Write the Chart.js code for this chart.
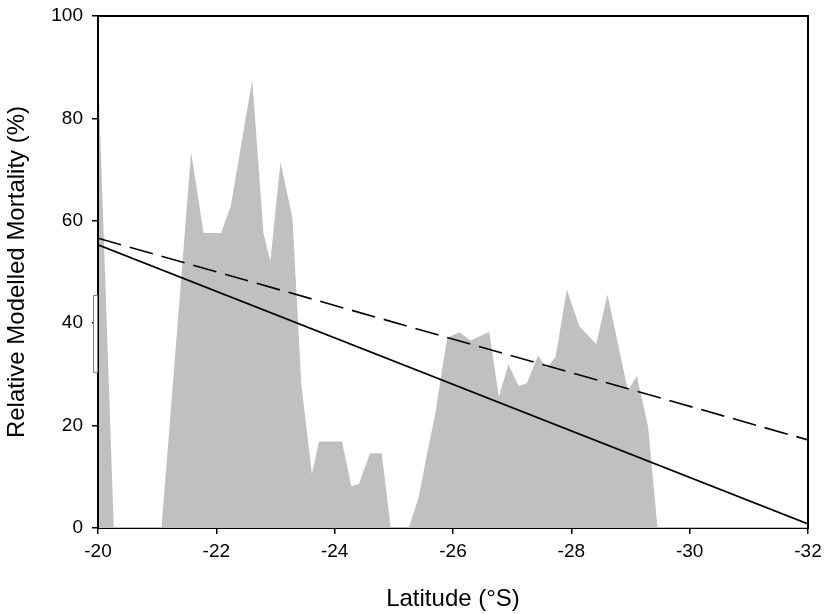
<!DOCTYPE html>
<html>
<head>
<meta charset="utf-8">
<script src="https://cdn.jsdelivr.net/npm/chart.js@4.4.1/dist/chart.umd.min.js"></script>
<style>
html,body{margin:0;padding:0;background:#fff;}
#wrap{width:824px;height:614px;position:relative;}
</style>
</head>
<body>
<div id="wrap"><canvas id="c" width="824" height="614"></canvas></div>
<script>
// Latitude (°S) of the modelled mortality profile vertices
const areaLat = [-20, -20.25, -21.09, -21.58, -21.77, -22.09, -22.26, -22.60, -22.78, -22.92, -23.09, -23.27, -23.42, -23.61, -23.75, -24.11, -24.27, -24.42, -24.61, -24.78, -24.93, -25.27, -25.44, -25.58, -25.72, -25.84, -25.92, -26.11, -26.29, -26.60, -26.77, -26.94, -27.10, -27.26, -27.44, -27.58, -27.75, -27.93, -28.12, -28.43, -28.61, -28.95, -29.10, -29.28, -29.44, -32];
// Relative modelled mortality (%)
const areaVal = [84, 0, 0, 71.7, 57.4, 57.4, 62.8, 85.9, 57.5, 51, 70.2, 60.5, 28, 9.4, 16.7, 16.7, 7.9, 8.4, 14.4, 14.4, 0, 0, 6.1, 14.6, 22.4, 31.5, 37.0, 38.0, 36.4, 38.0, 24.7, 31.4, 27.5, 28.1, 33.3, 30.9, 33.3, 45.8, 39.3, 35.5, 44.7, 26.3, 29.2, 19.8, 0, 0];
// Regression lines (end points)
const solidLat = [-20, -32];
const solidVal = [55.3, 0.8];
const dashedLat = [-20, -32];
const dashedVal = [56.6, 17.2];
// Axis ticks
const xTicks = [-20, -22, -24, -26, -28, -30, -32];
const yTicks = [0, 20, 40, 60, 80, 100];
// Small marker box left of the y axis (value range)
const boxRange = [30.5, 45.5];

const FONT = '"Liberation Sans", Arial, sans-serif';
const toXY = (xs, ys) => xs.map((x, i) => ({x: x, y: ys[i]}));

const framePlugin = {
  id: 'frame',
  afterDatasetsDraw(chart) {
    const {ctx, chartArea: a, scales} = chart;
    ctx.save();
    ctx.strokeStyle = '#000';
    ctx.lineWidth = 2;
    ctx.beginPath();
    ctx.moveTo(a.left, a.bottom + 1);
    ctx.lineTo(a.left, a.top);
    ctx.lineTo(a.right, a.top);
    ctx.lineTo(a.right, a.bottom + 1);
    ctx.stroke();
    // small box left of axis
    const y1 = scales.y.getPixelForValue(boxRange[1]);
    const y0 = scales.y.getPixelForValue(boxRange[0]);
    ctx.fillStyle = '#fff';
    ctx.fillRect(a.left - 5, y1, 4, y0 - y1);
    ctx.strokeStyle = '#808080';
    ctx.lineWidth = 1;
    ctx.strokeRect(a.left - 4.5, y1 + 0.5, 4, y0 - y1);
    ctx.restore();
  }
};

new Chart(document.getElementById('c'), {
  type: 'scatter',
  data: {
    datasets: [
      {
        type: 'line',
        data: toXY(solidLat, solidVal),
        borderColor: '#000',
        borderWidth: 1.6,
        pointRadius: 0,
        fill: false
      },
      {
        type: 'line',
        data: toXY(dashedLat, dashedVal),
        borderColor: '#000',
        borderWidth: 1.6,
        borderDash: [24, 9],
        pointRadius: 0,
        fill: false
      },
      {
        type: 'line',
        data: toXY(areaLat, areaVal),
        borderColor: '#c0c0c0',
        backgroundColor: '#c0c0c0',
        borderWidth: 2,
        pointRadius: 0,
        tension: 0,
        fill: 'origin'
      }
    ]
  },
  options: {
    responsive: false,
    animation: false,
    devicePixelRatio: 1,
    layout: {padding: {top: 16, right: 16, left: 0, bottom: 0}},
    plugins: {legend: {display: false}, tooltip: {enabled: false}},
    scales: {
      x: {
        type: 'linear',
        reverse: true,
        min: -32,
        max: -20,
        afterFit: s => { s.height = 86; s.paddingLeft = 0; s.paddingRight = 0; },
        afterBuildTicks: s => { s.ticks = xTicks.map(v => ({value: v})); },
        border: {display: true, color: '#000', width: 2},
        grid: {drawOnChartArea: false, drawTicks: true, tickLength: 6, color: '#000', lineWidth: 1.5},
        ticks: {color: '#000', padding: 6, font: {family: FONT, size: 19}, maxRotation: 0},
        title: {display: true, text: 'Latitude (°S)', color: '#000', font: {family: FONT, size: 24}, padding: {top: 2, bottom: 0}}
      },
      y: {
        type: 'linear',
        min: 0,
        max: 100,
        afterFit: s => { s.width = 98; s.paddingTop = 0; s.paddingBottom = 0; },
        afterBuildTicks: s => { s.ticks = yTicks.map(v => ({value: v})); },
        border: {display: true, color: '#000', width: 2},
        grid: {drawOnChartArea: false, drawTicks: true, tickLength: 6, color: '#000', lineWidth: 1.5},
        ticks: {color: '#000', padding: 9, font: {family: FONT, size: 19}},
        title: {display: true, text: 'Relative Modelled Mortality (%)', color: '#000', font: {family: FONT, size: 24}, padding: {top: 3, bottom: 0}}
      }
    }
  },
  plugins: [framePlugin]
});
</script>
</body>
</html>
